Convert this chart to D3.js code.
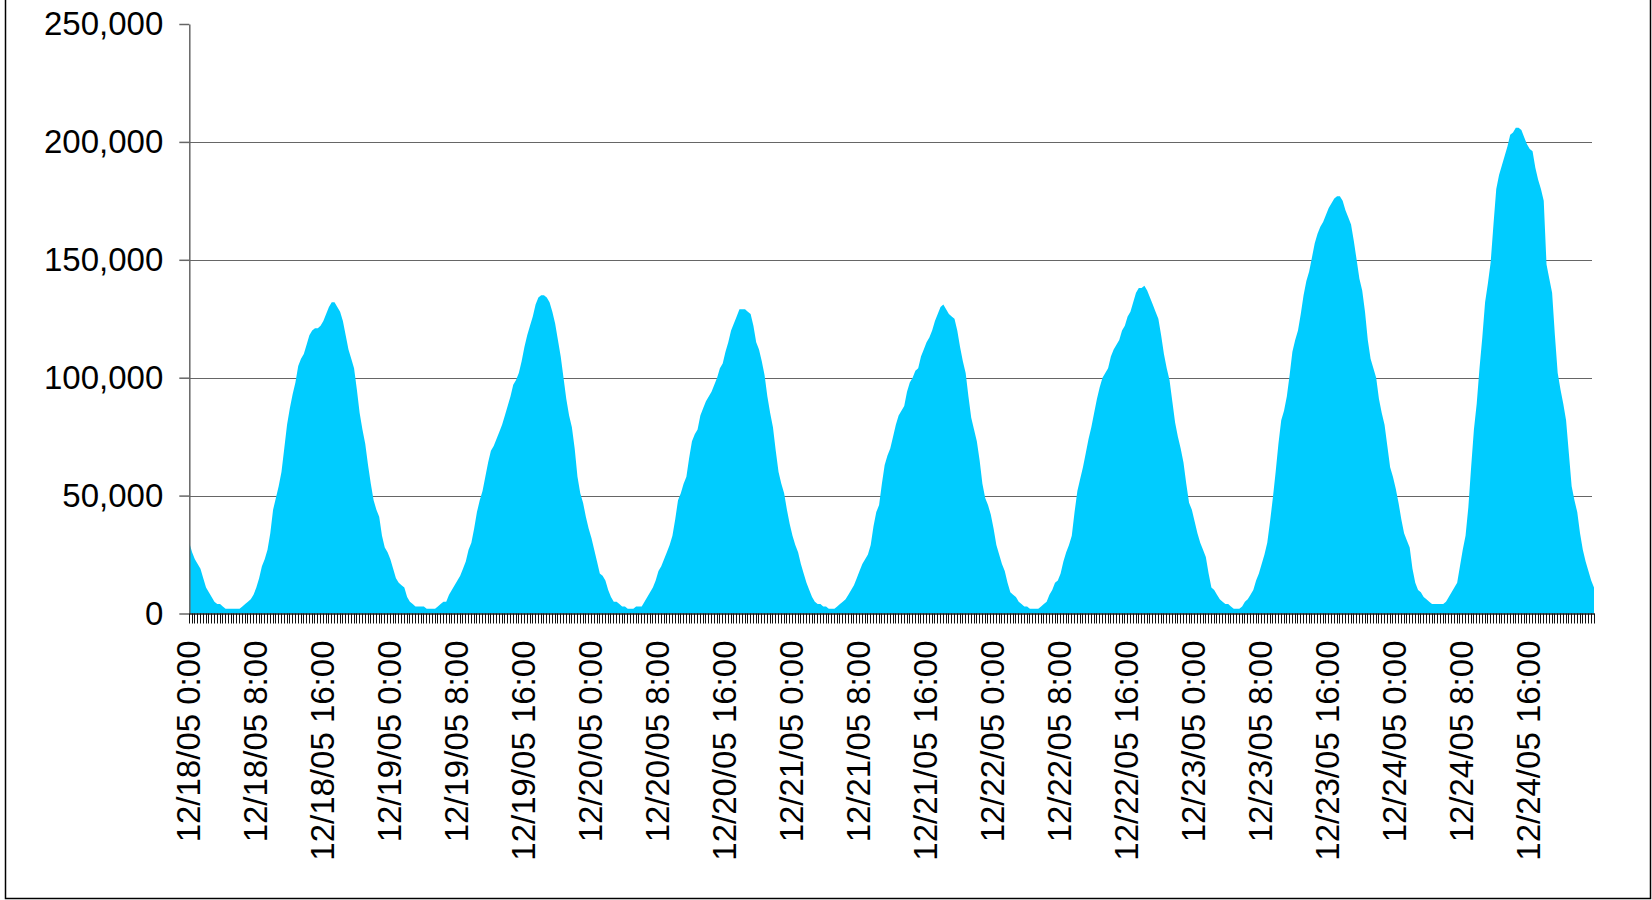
<!DOCTYPE html>
<html>
<head>
<meta charset="utf-8">
<script src="https://cdn.jsdelivr.net/npm/d3@7/dist/d3.min.js"></script>
<style>
  body { margin: 0; background: #fff; }
  svg { display: block; }
  text { font-family: Arial, "Liberation Sans", sans-serif; }
</style>
</head>
<body>
<svg id="chart" width="1652" height="900"></svg>
<script>
// ---- data ----
const seriesStart = "2005-12-18T00:00:00";
const intervalMinutes = 20;
const labelEveryHours = 8;
const yTickValues = [0, 50000, 100000, 150000, 200000, 250000];
const gridValues = [50000, 100000, 150000, 200000];
// values in thousands, one every 20 minutes from 12/18/05 0:00 to 12/24/05 23:40
const valuesThousands = [
  30,26,23,21,19,15,11,9,7,5,
  4,4,3,2,2,2,2,2,2,3,
  4,5,6,8,11,15,20,23,27,34,
  44,49,54,60,70,80,87,93,98,105,
  108,110,114,118,120,121,121,122,124,127,
  130,132,132,130,128,124,118,112,108,104,
  95,85,78,72,63,55,48,44,41,33,
  28,26,23,19,15,13,12,11,7,5,
  4,3,3,3,3,2,2,2,2,3,
  4,5,5,8,10,12,14,16,19,22,
  27,30,36,43,48,52,58,64,69,71,
  74,77,80,84,88,92,97,99,102,107,
  113,118,122,126,131,134,135,135,134,132,
  128,123,116,109,100,91,
  84,79,70,58,
  51,47,41,36,32,27,22,17,16,14,
  10,7,5,5,4,3,3,2,2,2,
  3,3,3,5,7,9,11,14,18,20,
  23,26,29,33,40,48,51,55,58,66,
  73,76,78,84,87,90,92,94,97,100,
  104,106,111,115,120,123,126,129,129,129,
  128,127,122,115,112,107,101,92,85,79,
  69,60,55,51,44,38,33,29,26,21,
  17,13,10,7,5,4,4,3,3,2,
  2,2,3,4,5,6,8,10,12,15,
  18,21,23,25,29,37,43,46,55,63,
  67,70,75,80,84,86,88,94,98,100,
  103,104,109,112,115,117,120,124,127,130,
  131,129,127,126,125,120,113,
  107,102,92,
  83,78,73,65,55,49,46,42,36,29,
  25,21,18,13,9,8,7,5,4,3,
  3,2,2,2,2,3,4,5,8,10,
  13,14,17,22,26,29,33,43,52,57,
  62,68,74,79,85,91,96,100,102,104,
  109,112,114,116,120,122,126,128,132,136,
  138,138,139,137,134,131,128,125,118,110,
  104,99,90,81,75,70,64,55,47,44,
  39,34,30,27,24,17,11,10,8,6,
  5,4,4,3,2,2,2,3,5,6,
  8,10,14,17,21,25,30,39,49,60,
  72,82,86,92,101,111,116,120,127,135,
  141,145,151,157,161,164,166,169,172,174,
  176,177,177,175,171,168,
  165,158,150,142,
  137,128,116,108,104,100,91,85,80,71,
  62,58,53,47,40,34,31,28,19,13,
  10,9,7,6,5,4,4,4,4,4,
  5,7,9,11,13,20,27,33,45,62,
  78,89,104,117,132,140,149,165,180,186,
  190,194,198,203,204,206,206,205,202,199,
  197,196,189,184,180,175,148,142,136,118,
  102,95,89,82,68,54,48,43,34,27,
  22,18,14,11
];

// ---- build ----
const t0 = new Date(seriesStart);
const data = valuesThousands.map((v, i) => ({
  date: d3.timeMinute.offset(t0, i * intervalMinutes),
  value: v * 1000
}));
const tEnd = data[data.length - 1].date;

const svg = d3.select("#chart");
const plotLeft = 189.3, plotRight = 1594, plotTop = 24, plotBottom = 613.5;

const x = d3.scaleTime().domain([t0, tEnd]).range([plotLeft, plotRight]);
const y = d3.scaleLinear().domain([0, 250000]).range([plotBottom, plotTop]);

// outer border
svg.append("rect")
  .attr("x", 5.5).attr("y", -5).attr("width", 1645).attr("height", 903.5)
  .attr("fill", "none").attr("stroke", "#000").attr("stroke-width", 1.5);

// gridlines
svg.append("g").selectAll("line").data(gridValues).join("line")
  .attr("x1", plotLeft).attr("x2", plotRight - 2)
  .attr("y1", d => Math.round(y(d)) + 0.5).attr("y2", d => Math.round(y(d)) + 0.5)
  .attr("stroke", "#666").attr("stroke-width", 1);

// area
const area = d3.area()
  .x(d => x(d.date))
  .y0(y(0))
  .y1(d => y(d.value));
svg.append("path").datum(data)
  .attr("d", area)
  .attr("fill", "#00CCFF");

// y axis
const yAxis = svg.append("g")
  .attr("transform", `translate(${plotLeft},0)`)
  .call(d3.axisLeft(y).tickValues(yTickValues).tickSize(10).tickSizeOuter(0)
        .tickPadding(16).tickFormat(d3.format(",")));
yAxis.select(".domain").attr("stroke", "#666").attr("stroke-width", 1.5);
yAxis.selectAll(".tick line").attr("stroke", "#666").attr("stroke-width", 1.5);
yAxis.selectAll("text").attr("font-size", 33).attr("fill", "#000")
  .attr("font-family", "Arial, 'Liberation Sans', sans-serif");

// x axis: a tick at every data point (snapped to whole pixels for crisp marks)
const xMinor = svg.append("g")
  .attr("transform", `translate(0,${plotBottom})`)
  .call(d3.axisBottom(x).tickValues(data.map(d => d.date)).tickSize(10)
        .tickSizeOuter(0).tickFormat(""));
xMinor.selectAll(".tick").attr("transform", d => `translate(${Math.floor(x(d)) + 0.5},0)`);
xMinor.select(".domain").attr("stroke", "#222").attr("stroke-width", 1.5);
xMinor.selectAll(".tick line").attr("stroke", "#111").attr("stroke-width", 1);

// x labels every 8 hours
const labelDates = d3.timeHour.every(labelEveryHours).range(t0, d3.timeMinute.offset(tEnd, 1));
const fmt = d3.timeFormat("%m/%d/%y %-H:%M");
const xLab = svg.append("g")
  .attr("transform", `translate(0,${plotBottom})`)
  .call(d3.axisBottom(x).tickValues(labelDates).tickSize(0).tickFormat(fmt));
xLab.select(".domain").remove();
xLab.selectAll("text")
  .attr("font-size", 33).attr("fill", "#000")
  .attr("font-family", "Arial, 'Liberation Sans', sans-serif")
  .attr("text-anchor", "end")
  .attr("transform", "rotate(-90)")
  .attr("x", -27).attr("y", 0).attr("dy", "0.3em");
</script>
</body>
</html>
